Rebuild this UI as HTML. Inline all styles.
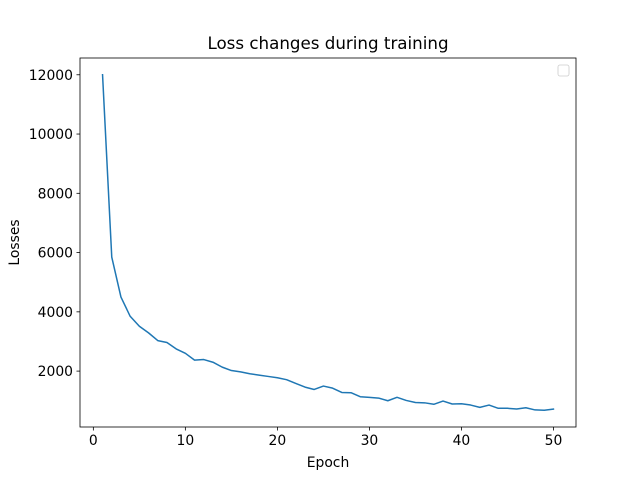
<!DOCTYPE html>
<html><head><meta charset="utf-8"><style>
body{margin:0;background:#fff}
svg text{font-family:"DejaVu Sans","Liberation Sans",sans-serif;fill:#000}
</style></head><body>
<svg id="chart" width="640" height="480" viewBox="0 0 640 480" xmlns="http://www.w3.org/2000/svg">
<rect width="640" height="480" fill="#fff"/>
<text x="328" y="49" font-size="16.7" text-anchor="middle">Loss changes during training</text>
<g id="plot"></g>
<rect x="80" y="58" width="496" height="369" fill="none" stroke="#000" stroke-width="0.8"/>
<rect x="558" y="65" width="11" height="11" rx="2" fill="#fff" stroke="#ccc" stroke-width="0.8"/>
<text x="328" y="467" font-size="13.9" text-anchor="middle">Epoch</text>
<text transform="translate(19,242.5) rotate(-90)" font-size="13.9" text-anchor="middle">Losses</text>
</svg>
<script>
const epochs = [];
for (let i = 1; i <= 50; i++) epochs.push(i);
const losses = [12000,5850,4500,3850,3515,3290,3030,2965,2750,2600,2370,2390,2300,2135,2020,1975,1910,1865,1820,1775,1710,1585,1460,1380,1495,1425,1280,1270,1135,1115,1090,1000,1115,1010,940,930,880,990,890,900,855,775,855,745,745,720,765,690,680,720];
const xTicks = [0,10,20,30,40,50];
const yTicks = [2000,4000,6000,8000,10000,12000];

const L=80,R=576,T=58,B=427;
const xmin0=Math.min(...epochs),xmax0=Math.max(...epochs);
const xm=(xmax0-xmin0)*0.05;
const xd=[xmin0-xm,xmax0+xm];
const ymin0=Math.min(...losses),ymax0=Math.max(...losses);
const ym=(ymax0-ymin0)*0.05;
const yd=[ymin0-ym,ymax0+ym];
const xs=v=>L+(v-xd[0])/(xd[1]-xd[0])*(R-L);
const ys=v=>B-(v-yd[0])/(yd[1]-yd[0])*(B-T);
const NS="http://www.w3.org/2000/svg";
const g=document.getElementById('plot');
function mk(tag,attrs){const e=document.createElementNS(NS,tag);for(const k in attrs)e.setAttribute(k,attrs[k]);g.appendChild(e);return e;}
xTicks.forEach(t=>{
  const x=xs(t);
  const l=mk('line',{x1:x,x2:x,y1:B,y2:B+3.5,stroke:'#000','stroke-width':0.8});
  
  
  const tx=mk('text',{x:x,y:B+18,'font-size':13.9,'text-anchor':'middle'});
  tx.textContent=t;
  
  
});
yTicks.forEach(t=>{
  const y=ys(t);
  const l=mk('line',{x1:L-3.5,x2:L,y1:y,y2:y,stroke:'#000','stroke-width':0.8});
  
  
  const tx=mk('text',{x:L-7,y:y+5,'font-size':13.9,'text-anchor':'end'});
  tx.textContent=t;
  
  
});
const d=epochs.map((e,i)=>(i?'L':'M')+xs(e).toFixed(2)+','+ys(losses[i]).toFixed(2)).join(' ');
const p=mk('path',{d:d,fill:'none',stroke:'#1f77b4','stroke-width':1.5,'stroke-linejoin':'round','stroke-linecap':'square'});


</script>
</body></html>
